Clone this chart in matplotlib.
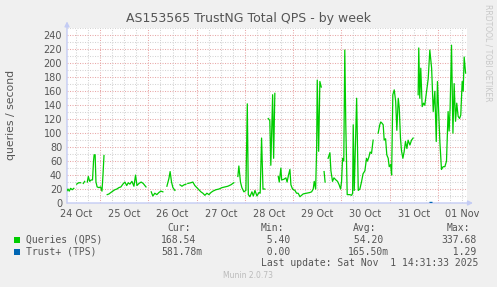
import numpy as np
import matplotlib
matplotlib.use('Agg')
import matplotlib.pyplot as plt

# Zeit in Stunden ab 24 Oct 00:00, NaN = Lücke
qps_hours = [
    7.5, 8.0, 8.6, 9.3, 10.1, 10.9, 11.6,
    12.3, 13.3, 14.3, 15.0,
    15.6, 16.3, 17.0,
    17.6, 18.1, 18.8, 19.5, 20.2, 20.7, 21.0, 21.5, 21.9, 22.5, 23.4, 24.2, 24.9, 25.4, 25.9, 26.7,
    27.5, 28.4, 29.3, 30.3, 31.3, 32.3, 33.3, 34.3, 35.3, 36.3, 37.2, 38.0, 38.8, 39.8, 40.8,
    41.6, 42.3, 43.3, 44.4, 45.4, 46.8, 48.0,
    49.4, 50.2, 51.2, 52.2, 53.2, 54.2, 55.2, 56.2,
    57.2, 58.2, 58.8, 59.5, 60.2, 61.2, 62.5,
    63.7, 64.7, 65.7, 66.7, 67.1,
    67.6, 69.1, 70.1, 71.1, 72.1, 73.1, 74.1, 75.1, 76.1, 77.1, 78.1, 79.1, 80.1, 81.6, 83.1,
    84.6, 86.1, 87.5, 89.0, 90.5, 91.5,
    92.5, 93.0, 93.8, 94.5, 95.5, 96.5, 97.2, 97.7, 98.5, 99.5, 100.2, 101.0, 102.0, 103.0,
    103.6, 104.3, 105.0, 105.9, 106.8,
    107.6, 108.4, 108.9, 109.8, 110.3, 110.9, 111.8,
    112.6, 113.1, 113.9, 114.3, 115.4, 116.4, 117.0, 117.7, 118.4, 118.9, 119.7, 120.9, 121.7,
    122.5, 123.4, 124.2, 125.0, 126.7, 128.3, 129.2, 130.0, 130.5, 131.2, 131.7, 132.0, 132.7,
    133.3, 134.0, 134.7,
    135.4, 135.9, 136.6,
    137.4, 138.3, 138.8, 139.6, 140.3, 141.3, 142.1, 142.9, 143.6, 144.1, 144.6, 145.2, 145.7,
    146.2, 146.9, 148.2, 149.1, 149.6, 149.9, 150.4, 151.6, 152.4, 153.2, 154.0, 154.8, 155.7,
    156.5, 157.0, 157.7, 158.3, 159.0, 159.8, 161.0,
    162.3, 163.1, 163.6, 164.3, 164.8, 165.3, 166.0, 166.6, 167.3, 167.8, 168.5, 169.0, 169.6,
    170.3, 171.0, 171.6, 172.3, 172.8, 173.4, 173.9, 174.6, 175.2, 175.9, 176.6, 177.2, 178.1,
    178.9, 179.7, 181.0,
    182.2, 182.5, 183.0, 183.5, 184.2, 184.9, 185.5, 186.4, 187.2, 188.0, 188.9, 189.7, 190.5,
    191.2, 191.8, 192.5, 193.0, 193.8, 194.6, 195.5, 196.3, 197.1, 197.6, 198.1, 198.8, 199.5,
    200.1, 200.8, 201.4, 202.1, 202.8, 203.4, 204.1, 204.6, 205.1, 205.8,
]
nan = np.nan
qps_values = [
    17.6, 20, 17, 21, 19, 21, nan,
    27, 29, 29, nan,
    28, 31, nan,
    30, 38, 31, 33, 33, 60, 69, 69, 30, 23, 22, 23, 17, 40, 68, nan,
    12, 13, 15, 17, 19, 20, 22, 23, 27, 30, 25, 29, 27, 31, 24,
    40, 25, 28, 30, 28, 23, nan,
    16, 10, 14, 12, 15, 17, 16, nan,
    24, 35, 45, 30, 22, 18, nan,
    26, 24, 26, 27, nan,
    28, 29, 30, 25, 22, 19, 16, 14, 11, 14, 12, 15, 17, 19, 20,
    22, 23, 24, 26, 29, nan,
    38, 53, 30, 22, 16, 18, 142, 12, 9, 16, 10, 18, 10, 15,
    14, 93, 20, 20, nan,
    121, 118, 54, 155, 64, 157, nan,
    38, 30, 50, 33, 34, 36, 30, 40, 48, 26, 20, 18, 14,
    14, 9, 11, 13, 14, 15, 16, 20, 31, 20, 78, 176, 74,
    174, 166, nan,
    45, 30, nan,
    64, 72, 46, 31, 36, 33, 31, 26, 20, 31, 64, 60, 219,
    112, 12, 12, 11, 14, 112, 18, 150, 18, 20, 30, 42, 46,
    64, 60, 66, 73, 71, 90, nan,
    100, 112, 116, 114, 112, 90, 92, 69, 64, 52, 55, 40, 155,
    162, 146, 104, 150, 136, 93, 75, 64, 73, 88, 78, 90, 83,
    90, 93, nan,
    155, 222, 150, 193, 138, 143, 140, 160, 178, 219, 193, 131, 160,
    88, 174, 126, 88, 48, 52, 52, 60, 131, 103, 136, 226, 100,
    171, 117, 143, 124, 121, 126, 174, 160, 209, 186,
]
tps_hours = [187.8, 189.3]
tps_values = [1.29, 1.29]

day_labels = ['24 Oct', '25 Oct', '26 Oct', '27 Oct', '28 Oct', '29 Oct', '30 Oct', '31 Oct', '01 Nov']
y_ticks = list(range(0, 241, 20))

legend_names = ['Queries (QPS)', 'Trust+ (TPS)']
legend_colors = ['#00cc00', '#0066b3']
cur_vals = ['168.54', '581.78m']
min_vals = ['  5.40', '  0.00']
avg_vals = [' 54.20', '165.50m']
max_vals = ['337.68', '  1.29']

W, H = 497, 287
fig = plt.figure(figsize=(W / 100, H / 100), dpi=100)
fig.patch.set_facecolor('#f0f0f0')

def px(x, y):
    return x / W, 1 - y / H

ax = fig.add_axes([67 / W, (H - 203) / H, 400 / W, (203 - 28.4) / H])
ax.set_facecolor('white')
ax.set_xlim(7.5, 206.5)
ax.set_ylim(0, 250)
for s in ax.spines.values():
    s.set_visible(False)

# Gitter: grau alle 6h / 10, rot jeden Tag / 20
dots = (0, (1.0, 1.4))
for h in np.arange(12, 206.5, 6):
    major = (h % 24 == 0)
    ax.axvline(h, color='#e8a8a8' if major else '#d4d4d4', lw=0.75, ls=dots, zorder=0)
for v in range(10, 251, 10):
    major = (v % 20 == 0)
    ax.axhline(v, color='#e8a8a8' if major else '#d4d4d4', lw=0.75, ls=dots, zorder=0)

ax.plot(qps_hours, qps_values, color=legend_colors[0], lw=0.9, zorder=3)
ax.plot(tps_hours, tps_values, color=legend_colors[1], lw=1.0, solid_capstyle='butt', zorder=3)

# Achsen mit Pfeilen
axis_c = '#c4ccf4'
ax.annotate('', xy=(1.015, 0), xytext=(0, 0), xycoords='axes fraction',
            arrowprops=dict(arrowstyle='-|>', color=axis_c, lw=1.0, mutation_scale=7,
                            shrinkA=0, shrinkB=0), zorder=2)
ax.annotate('', xy=(0, 1.04), xytext=(0, 0), xycoords='axes fraction',
            arrowprops=dict(arrowstyle='-|>', color=axis_c, lw=1.0, mutation_scale=7,
                            shrinkA=0, shrinkB=0), zorder=2)

ax.set_xticks([12 + 24 * i for i in range(len(day_labels))])
ax.set_xticklabels(day_labels)
ax.set_yticks(y_ticks)
ax.set_yticklabels([str(v) for v in y_ticks])
ax.tick_params(axis='both', length=0, labelsize=7, colors='#555555')
ax.tick_params(axis='x', pad=4)
ax.tick_params(axis='y', pad=3.5)

fig.text(*px(248, 18.5), 'AS153565 TrustNG Total QPS - by week', ha='center', va='center',
         fontsize=9, color='#555555')
fig.text(*px(11, 115), 'queries / second', rotation=90, ha='center', va='center',
         fontsize=7.8, color='#555555')
fig.text(*px(488, 53), 'RRDTOOL / TOBI OETIKER', rotation=270, ha='center', va='center',
         fontsize=5.5, color='#c8c8c8')

mono = dict(family='DejaVu Sans Mono', fontsize=7, color='#555555', va='center')
for x, t in zip([167, 261, 353, 447], ['Cur:', 'Min:', 'Avg:', 'Max:']):
    fig.text(*px(x, 228), t, **mono)
for i, y in enumerate([240, 252]):
    fig.patches.append(plt.Rectangle(px(14, y + 3), 6 / W, 6 / H, transform=fig.transFigure,
                                     facecolor=legend_colors[i], edgecolor='none'))
    fig.text(*px(26, y), legend_names[i], **mono)
    fig.text(*px(161, y), cur_vals[i], **mono)
    fig.text(*px(255, y), min_vals[i], **mono)
    fig.text(*px(348, y), avg_vals[i], **mono)
    fig.text(*px(441, y), max_vals[i], **mono)
fig.text(*px(261, 263), 'Last update: Sat Nov  1 14:31:33 2025', **mono)
fig.text(*px(248, 276), 'Munin 2.0.73', ha='center', va='center', fontsize=5.5, color='#bbbbbb')

fig.savefig('out.png', dpi=100, facecolor=fig.get_facecolor())
